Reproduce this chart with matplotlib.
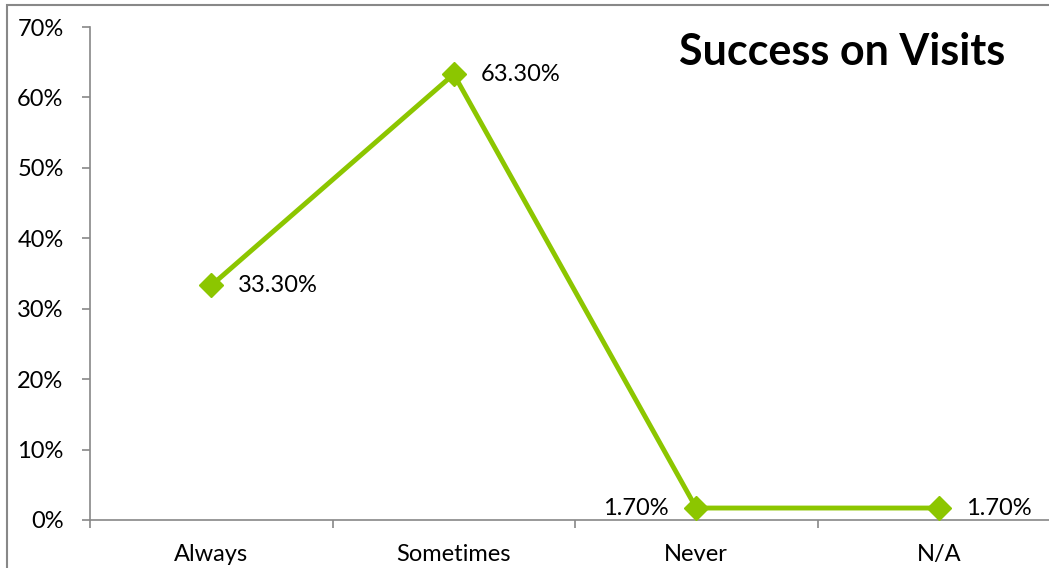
import matplotlib
matplotlib.use("Agg")
import matplotlib.pyplot as plt
from matplotlib.patches import Rectangle
from matplotlib.ticker import FixedLocator, FuncFormatter

categories = ["Always", "Sometimes", "Never", "N/A"]
values = [33.3, 63.3, 1.7, 1.7]
labels = ["33.30%", "63.30%", "1.70%", "1.70%"]
yticks = [0, 10, 20, 30, 40, 50, 60, 70]
title = "Success on Visits"

W, H = 1049, 568
fig = plt.figure(figsize=(W / 100, H / 100), dpi=100)
plt.rcParams['font.family'] = ['Lato', 'DejaVu Sans']

# outer chart border (cropped on right/bottom)
fig.patches.append(Rectangle((7 / W, -0.2), 1.2, 1 - 5 / H + 0.2, transform=fig.transFigure,
                             fill=False, edgecolor="#888888", linewidth=1.5))

ax = fig.add_axes([90 / W, (H - 520) / H, (1060 - 90) / W, (520 - 27) / H])
green = "#8CC600"
x = list(range(len(categories)))
ax.plot(x, values, color=green, linewidth=3.5, marker="D", markersize=12.5,
        markerfacecolor=green, markeredgecolor=green, clip_on=False, zorder=3)

offsets = [(27, 0, "left"), (27, 0, "left"), (-28, 0, "right"), (27, 0, "left")]
for xi, v, lab, (dx, dy, ha) in zip(x, values, labels, offsets):
    ax.annotate(lab, (xi, v), xytext=(dx * 0.72, dy), textcoords="offset points",
                ha=ha, va="center", fontsize=17, color="black")

ax.set_xlim(-0.5, len(categories) - 0.5)
ax.set_ylim(0, 70)
ax.set_yticks(yticks)
ax.yaxis.set_major_formatter(FuncFormatter(lambda v, p: f"{int(v)}%"))
ax.set_xticks(x)
ax.set_xticklabels(categories)
ax.xaxis.set_minor_locator(FixedLocator([i - 0.5 for i in range(len(categories) + 1)]))
ax.tick_params(axis="x", which="major", length=0, labelsize=17, pad=17)
ax.tick_params(axis="x", which="minor", length=6, color="#888888", width=1.2, direction="out")
ax.tick_params(axis="y", length=6, color="#888888", width=1.2, labelsize=17, pad=13)
for s in ["top", "right"]:
    ax.spines[s].set_visible(False)
for s in ["left", "bottom"]:
    ax.spines[s].set_color("#888888")
    ax.spines[s].set_linewidth(1.2)

fig.text(842 / W, 1 - 52 / H, title, ha="center", va="center", fontsize=31,
         fontweight="bold", color="black")

fig.savefig("out.png", dpi=100)
